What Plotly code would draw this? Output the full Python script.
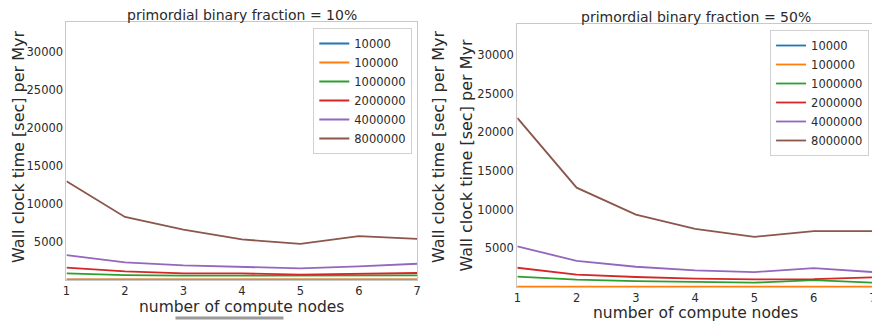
import plotly.graph_objects as go

# The page body has an 8px default margin, so the figure is sized to the
# visible area and all layout positions are given in page pixels minus 8.
PAGE_W, PAGE_H = 880, 322
OFF = 8
W, H = PAGE_W - OFF, PAGE_H - OFF

nodes = [1, 2, 3, 4, 5, 6, 7]
series_names = ["10000", "100000", "1000000", "2000000", "4000000", "8000000"]
colors = ["#1f77b4", "#ff7f0e", "#2ca02c", "#d62728", "#9467bd", "#8c564b"]

# primordial binary fraction = 10%
left_10000 = [40, 35, 30, 30, 30, 30, 30]
left_100000 = [90, 80, 75, 70, 70, 70, 70]
left_1000000 = [870, 650, 570, 570, 520, 560, 600]
left_2000000 = [1620, 1140, 870, 860, 700, 790, 920]
left_4000000 = [3280, 2320, 1920, 1700, 1530, 1790, 2140]
left_8000000 = [13000, 8310, 6650, 5340, 4770, 5770, 5420]

# primordial binary fraction = 50%
right_10000 = [25, 20, 20, 20, 20, 20, 20]
right_100000 = [60, 50, 45, 45, 40, 45, 45]
right_1000000 = [1330, 950, 770, 690, 560, 900, 560]
right_2000000 = [2490, 1590, 1290, 1070, 990, 1020, 1250]
right_4000000 = [5240, 3390, 2620, 2150, 1930, 2450, 1930]
right_8000000 = [21860, 12840, 9360, 7520, 6490, 7220, 7220]

left_data = [left_10000, left_100000, left_1000000, left_2000000, left_4000000, left_8000000]
right_data = [right_10000, right_100000, right_1000000, right_2000000, right_4000000, right_8000000]

ytickvals = [5000, 10000, 15000, 20000, 25000, 30000]
yrange = [0, 34000]
ylabel = "Wall clock time [sec] per Myr"
xlabel = "number of compute nodes"

FONT = "DejaVu Sans"
TXT = "#2a2a2a"

fig = go.Figure()
for name, c, ys in zip(series_names, colors, left_data):
    fig.add_trace(go.Scatter(x=nodes, y=ys, mode="lines", name=name,
                             line=dict(color=c, width=1.8), xaxis="x", yaxis="y",
                             legend="legend"))
for name, c, ys in zip(series_names, colors, right_data):
    fig.add_trace(go.Scatter(x=nodes, y=ys, mode="lines", name=name,
                             line=dict(color=c, width=1.8), xaxis="x2", yaxis="y2",
                             legend="legend2"))


def px_x(p):
    return (p - OFF) / W


def px_y(p):
    return 1 - (p - OFF) / H


axis_common = dict(showgrid=False, zeroline=False, showline=True, mirror=True,
                   linecolor="#c8c8c8", linewidth=1.2, ticks="",
                   tickformat="d",
                   tickfont=dict(family=FONT, size=11.5, color=TXT))

legend_common = dict(bgcolor="white", bordercolor="#d0d0d0", borderwidth=1,
                     font=dict(family=FONT, size=11.5, color=TXT), tracegroupgap=0,
                     itemwidth=30)

fig.update_layout(
    width=W, height=H,
    margin=dict(l=0, r=0, t=0, b=0),
    paper_bgcolor="white", plot_bgcolor="white",
    font=dict(family=FONT, color=TXT),
    xaxis=dict(domain=[px_x(63), px_x(417)], range=[1, 7], tickvals=nodes,
               anchor="y", **axis_common),
    yaxis=dict(domain=[px_y(280), px_y(22)], range=yrange, tickvals=ytickvals,
               anchor="x", **axis_common),
    xaxis2=dict(domain=[px_x(518), px_x(877)], range=[1, 7], tickvals=nodes,
                anchor="y2", **axis_common),
    yaxis2=dict(domain=[px_y(287), px_y(24)], range=yrange, tickvals=ytickvals,
                anchor="x2",
                title=dict(text=ylabel, font=dict(family=FONT, size=16, color=TXT),
                           standoff=0),
                **axis_common),
    legend=dict(x=px_x(412), xanchor="right", y=px_y(28), yanchor="top",
                **legend_common),
    legend2=dict(x=px_x(873), xanchor="right", y=px_y(30), yanchor="top",
                 **legend_common),
    showlegend=True,
)

annotations = [
    dict(text="primordial binary fraction = 10%", x=px_x(240), y=px_y(15),
         font=dict(size=14)),
    dict(text="primordial binary fraction = 50%", x=px_x(698), y=px_y(17),
         font=dict(size=14)),
    dict(text=xlabel, x=px_x(240), y=px_y(306.5), font=dict(size=15.5)),
    dict(text=xlabel, x=px_x(698), y=px_y(312.5), font=dict(size=15.5)),
    dict(text=ylabel, x=px_x(14), y=px_y(147), textangle=-90, font=dict(size=16)),
    dict(text=ylabel, x=px_x(438), y=px_y(147), textangle=-90, font=dict(size=16)),
]
for a in annotations:
    fig.add_annotation(xref="paper", yref="paper", showarrow=False,
                       xanchor="center", yanchor="middle", borderpad=0,
                       font_family=FONT, font_color=TXT, **a)

fig.add_shape(type="line", xref="paper", yref="paper",
              x0=px_x(173), x1=px_x(282), y0=px_y(318), y1=px_y(318),
              line=dict(color="#9a9a9a", width=3))

fig.write_html("out.html")
